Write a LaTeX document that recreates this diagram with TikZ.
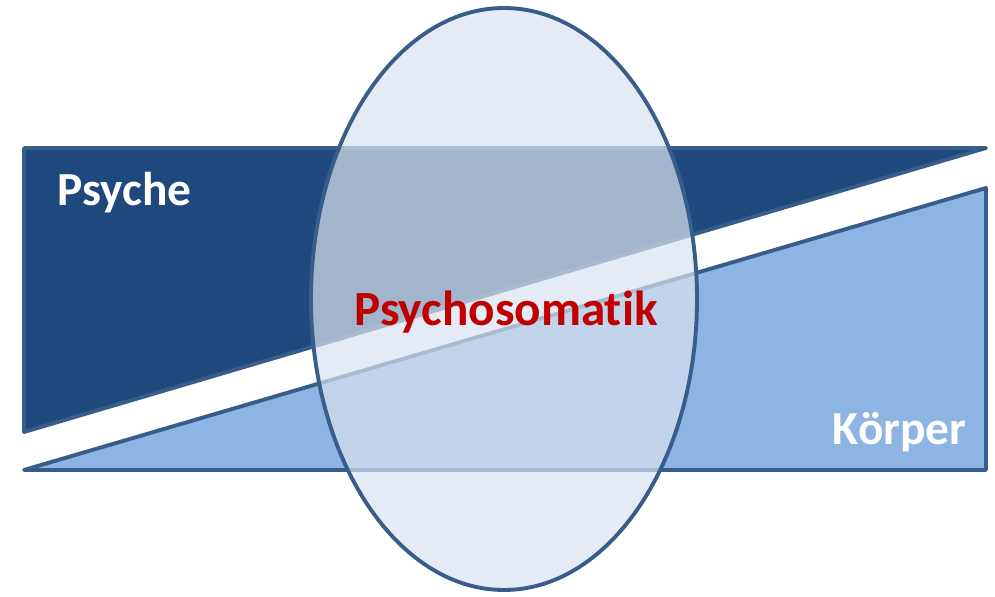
\documentclass[tikz,border=0pt]{standalone}
\usepackage{fontspec}
\setmainfont{Carlito}[Ligatures={NoCommon}]
\definecolor{psychefill}{HTML}{1F497D}
\definecolor{koerperfill}{HTML}{8EB4E3}
\definecolor{rand}{HTML}{385D8A}
\definecolor{ovalfill}{HTML}{D9E3EF}
\definecolor{titelrot}{HTML}{C00000}
\begin{document}
\begin{tikzpicture}[x=0.02cm, y=-0.02cm,
	flaeche/.style={draw=rand, line width=2.2pt, line join=round},
	lbl/.style={font=\fontsize{27}{32}\selectfont\bfseries, text=white, inner sep=0pt}]
		\useasboundingbox (0,0) rectangle (995,597);
		\coordinate (A0) at (24,148);
		\coordinate (A1) at (986,148);
		\coordinate (A2) at (24,432);
		\coordinate (B0) at (24,470);
		\coordinate (B1) at (986,188);
		\coordinate (B2) at (986,470);
		\coordinate (M) at (504,299);
		\draw[flaeche, fill=psychefill] (A0) -- (A1) -- (A2) -- cycle;
		\draw[flaeche, fill=koerperfill] (B0) -- (B1) -- (B2) -- cycle;
		\draw[flaeche, fill=ovalfill, fill opacity=0.7] (M) ellipse [x radius=193, y radius=291];
		\node[lbl, anchor=base west] (psyche) at (57,206) {Psyche};
		\node[lbl, anchor=base east] (koerper) at (967,445) {Körper};
		\node[lbl, text=titelrot, font=\fontsize{28}{32}\selectfont\bfseries] (psychosomatik) at (506,312) {Psychosomatik};
		\end{tikzpicture}
\end{document}
